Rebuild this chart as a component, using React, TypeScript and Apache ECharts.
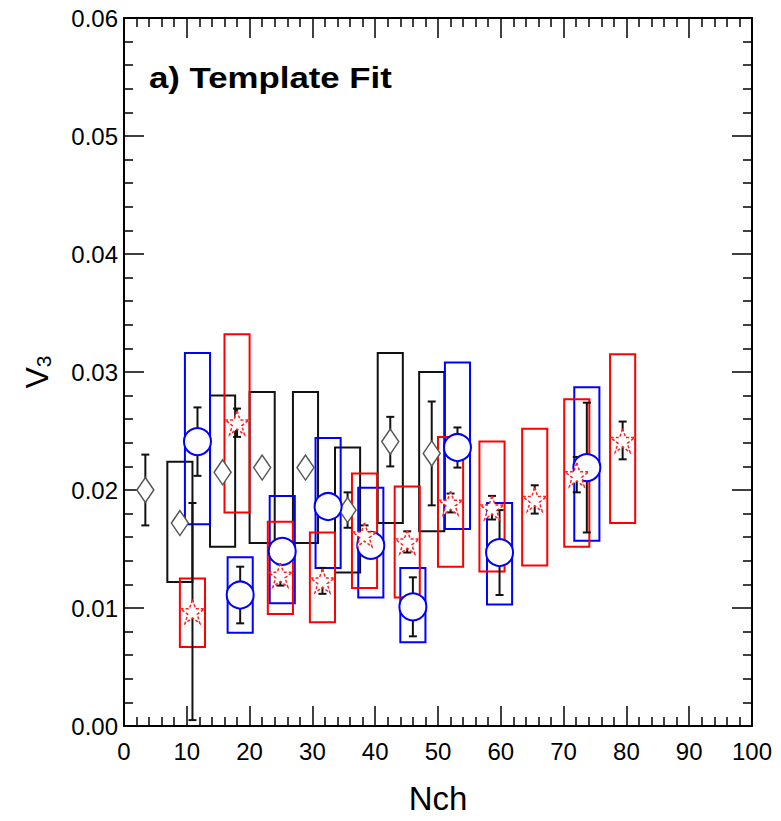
import React, { useEffect, useRef } from "react";
import * as echarts from "echarts";

// ---- data ----
const xTickValues = [0, 10, 20, 30, 40, 50, 60, 70, 80, 90, 100];
const yTickValues = [0, 0.01, 0.02, 0.03, 0.04, 0.05, 0.06];

// black open diamonds
const blackX = [3.4, 8.9, 15.7, 22.0, 28.9, 35.6, 42.4, 49.0];
const blackY = [0.02, 0.0172, 0.0215, 0.0219, 0.0219, 0.0183, 0.0241, 0.0231];
const blackStat = [0.003, 0, 0, 0, 0, 0.0015, 0.0021, 0.0044];
const blackSysLo = [null, 0.0122, 0.0152, 0.0155, 0.0155, 0.013, 0.0172, 0.0165];
const blackSysHi = [null, 0.0224, 0.028, 0.0283, 0.0283, 0.0236, 0.0316, 0.03];

// blue open circles
const blueX = [11.7, 18.5, 25.2, 32.5, 39.3, 46.0, 53.1, 59.8, 73.7];
const blueY = [0.0241, 0.0111, 0.0148, 0.0186, 0.0153, 0.0101, 0.0236, 0.0147, 0.0219];
const blueStat = [0.0029, 0.0024, 0.0009, 0, 0.0006, 0.0025, 0.0017, 0.0036, 0.0055];
const blueSysLo = [0.0171, 0.0079, 0.0104, 0.0134, 0.0109, 0.0071, 0.0167, 0.0103, 0.0157];
const blueSysHi = [0.0316, 0.0143, 0.0195, 0.0244, 0.0202, 0.0134, 0.0308, 0.0189, 0.0287];

// red open stars
const redX = [10.9, 18.0, 24.9, 31.6, 38.3, 45.1, 52.0, 58.6, 65.4, 72.1, 79.4];
const redY = [0.0097, 0.0257, 0.0128, 0.0123, 0.0162, 0.0156, 0.0189, 0.0185, 0.0192, 0.0213, 0.0242];
const redStat = [0.0092, 0.0012, 0.0009, 0.0011, 0.0008, 0.0009, 0.0008, 0.001, 0.0012, 0.0015, 0.0016];
const redSysLo = [0.0067, 0.0181, 0.0095, 0.0088, 0.0117, 0.0109, 0.0135, 0.0131, 0.0136, 0.0152, 0.0172];
const redSysHi = [0.0125, 0.0332, 0.0173, 0.0164, 0.0214, 0.0203, 0.0245, 0.0241, 0.0252, 0.0277, 0.0315];

const BOX_HALF = 2; // half width of systematic boxes in Nch units
const FONT = '"Liberation Sans", Arial, Helvetica, sans-serif';
const STAR =
  "path://M12,0 L14.9,8.3 L23.4,8.3 L16.5,13.4 L19.1,21.7 L12,16.6 L4.9,21.7 L7.5,13.4 L0.6,8.3 L9.1,8.3 Z";

function boxData(xs: number[], lo: (number | null)[], hi: (number | null)[]) {
  const out: number[][] = [];
  xs.forEach((x, i) => {
    if (lo[i] != null && hi[i] != null) out.push([x, lo[i] as number, hi[i] as number]);
  });
  return out;
}

function errData(xs: number[], ys: number[], es: number[]) {
  const out: number[][] = [];
  xs.forEach((x, i) => {
    if (es[i] > 0) out.push([x, ys[i], es[i]]);
  });
  return out;
}

function boxRender(color: string) {
  return (_params: any, api: any) => {
    const x = api.value(0);
    const lo = api.value(1);
    const hi = api.value(2);
    const p1 = api.coord([x - BOX_HALF, hi]);
    const p2 = api.coord([x + BOX_HALF, lo]);
    return {
      type: "rect",
      shape: { x: p1[0], y: p1[1], width: p2[0] - p1[0], height: p2[1] - p1[1] },
      style: { fill: "none", stroke: color, lineWidth: 2 },
    };
  };
}

function errRender(_params: any, api: any) {
  const x = api.value(0);
  const y = api.value(1);
  const e = api.value(2);
  const t = api.coord([x, y + e]);
  const b = api.coord([x, y - e]);
  const c = 4;
  const st = { stroke: "#111", lineWidth: 2 };
  return {
    type: "group",
    children: [
      { type: "line", shape: { x1: t[0], y1: t[1], x2: b[0], y2: b[1] }, style: st },
      { type: "line", shape: { x1: t[0] - c, y1: t[1], x2: t[0] + c, y2: t[1] }, style: st },
      { type: "line", shape: { x1: b[0] - c, y1: b[1], x2: b[0] + c, y2: b[1] }, style: st },
    ],
  };
}

const axisLine = { show: true, onZero: false, lineStyle: { color: "#000", width: 2 } };
const tickStyle = { color: "#000", width: 1.5 };

export default function App() {
  const ref = useRef<HTMLDivElement>(null);
  useEffect(() => {
    document.body.style.margin = "0";
    const chart = echarts.init(ref.current!, null, { renderer: "svg" });
    const xBase = {
      type: "value",
      min: xTickValues[0],
      max: xTickValues[xTickValues.length - 1],
      interval: 10,
      axisLine,
      axisTick: { show: true, inside: true, length: 20, lineStyle: tickStyle },
      minorTick: { show: true, splitNumber: 5, length: 9, lineStyle: tickStyle },
      splitLine: { show: false },
      minorSplitLine: { show: false },
    };
    const yBase = {
      type: "value",
      min: yTickValues[0],
      max: yTickValues[yTickValues.length - 1],
      interval: 0.01,
      axisLine,
      axisTick: { show: true, inside: true, length: 20, lineStyle: tickStyle },
      minorTick: { show: true, splitNumber: 5, length: 9, lineStyle: tickStyle },
      splitLine: { show: false },
      minorSplitLine: { show: false },
    };
    chart.setOption({
      animation: false,
      backgroundColor: "#fff",
      grid: { left: 124, right: 29, top: 18, bottom: 95 },
      xAxis: [
        {
          ...xBase,
          position: "bottom",
          axisLabel: { color: "#000", fontSize: 24, fontFamily: FONT, margin: 13 },
          name: "Nch",
          nameLocation: "middle",
          nameGap: 56,
          nameTextStyle: { color: "#000", fontSize: 33, fontFamily: FONT },
        },
        { ...xBase, position: "top", axisLabel: { show: false } },
      ],
      yAxis: [
        {
          ...yBase,
          position: "left",
          axisLabel: {
            color: "#000",
            fontSize: 24,
            fontFamily: FONT,
            margin: 6,
            formatter: (v: number) => v.toFixed(2),
          },
          name: "{a|V}{b|3}",
          nameLocation: "middle",
          nameRotate: 90,
          nameGap: 70,
          nameTextStyle: {
            rich: {
              a: { fontSize: 32, fontFamily: FONT, color: "#000" },
              b: { fontSize: 21, fontFamily: FONT, color: "#000", padding: [14, 0, 0, 0] },
            },
          },
        },
        { ...yBase, position: "right", axisLabel: { show: false } },
      ],
      graphic: [
        {
          type: "text",
          x: 149,
          y: 78,
          scaleX: 1.2,
          style: {
            text: "a) Template Fit",
            fontSize: 29,
            fontWeight: "bold",
            fontFamily: FONT,
            fill: "#000",
            align: "left",
            verticalAlign: "middle",
          },
        },
      ],
      series: [
        {
          type: "custom",
          name: "black sys",
          renderItem: boxRender("#111"),
          data: boxData(blackX, blackSysLo, blackSysHi),
          encode: { x: 0, y: [1, 2] },
          z: 1,
        },
        {
          type: "custom",
          name: "blue sys",
          renderItem: boxRender("#0000ff"),
          data: boxData(blueX, blueSysLo, blueSysHi),
          encode: { x: 0, y: [1, 2] },
          z: 2,
        },
        {
          type: "custom",
          name: "red sys",
          renderItem: boxRender("#ff0000"),
          data: boxData(redX, redSysLo, redSysHi),
          encode: { x: 0, y: [1, 2] },
          z: 3,
        },
        {
          type: "custom",
          name: "stat errors",
          renderItem: errRender,
          data: [
            ...errData(blackX, blackY, blackStat),
            ...errData(blueX, blueY, blueStat),
            ...errData(redX, redY, redStat),
          ],
          encode: { x: 0, y: 1 },
          z: 4,
        },
        {
          type: "scatter",
          name: "black",
          data: blackX.map((x, i) => [x, blackY[i]]),
          symbol: "diamond",
          symbolSize: [17, 25],
          itemStyle: { color: "#fff", borderColor: "#555", borderWidth: 1.5, opacity: 1 },
          z: 5,
        },
        {
          type: "scatter",
          name: "blue",
          data: blueX.map((x, i) => [x, blueY[i]]),
          symbol: "circle",
          symbolSize: 27,
          itemStyle: { color: "#ffffff", borderColor: "#0000ff", borderWidth: 2, opacity: 1 },
          z: 6,
        },
        {
          type: "scatter",
          name: "red",
          data: redX.map((x, i) => [x, redY[i]]),
          symbol: STAR,
          symbolSize: 24,
          itemStyle: {
            color: "#fff",
            borderColor: "#ff2020",
            borderWidth: 1.5,
            borderType: [3, 2],
            opacity: 1,
          },
          z: 7,
        },
      ],
    });
    return () => chart.dispose();
  }, []);
  return <div ref={ref} style={{ width: 781, height: 821 }} />;
}
